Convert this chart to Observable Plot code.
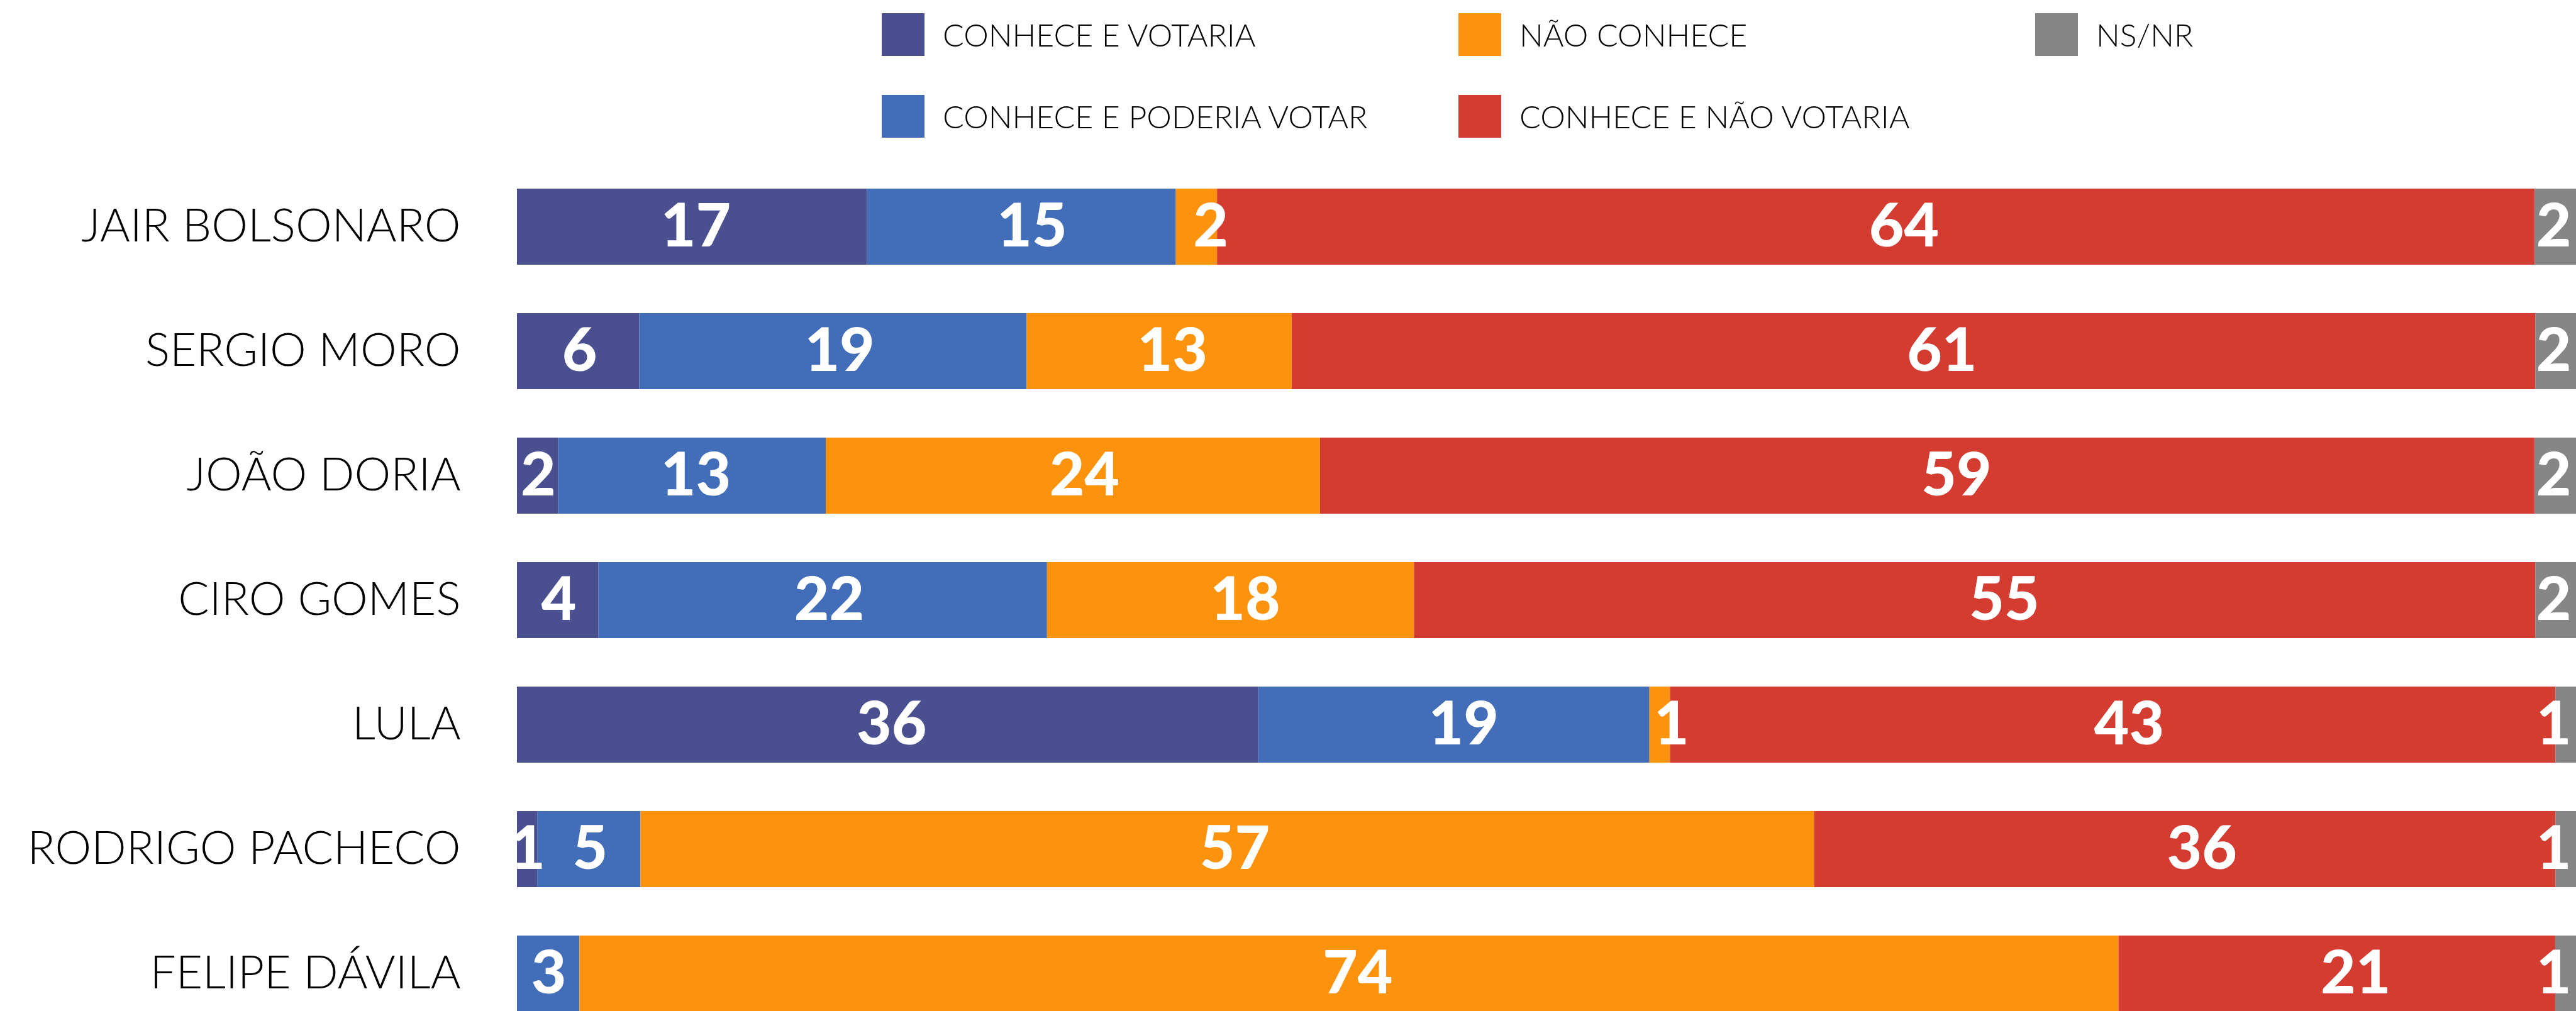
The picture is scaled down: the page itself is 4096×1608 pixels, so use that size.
<!DOCTYPE html>
<html><head><meta charset="utf-8">
<script src="https://cdn.jsdelivr.net/npm/d3@7"></script>
<script src="https://cdn.jsdelivr.net/npm/@observablehq/plot@0.6"></script>
<style>
html,body{margin:0;padding:0;background:#fff;overflow:hidden}
#legend{position:relative;width:4096px;height:256px;font-family:Lato,sans-serif;font-weight:300}
.item{position:absolute;display:flex;align-items:center;font-size:50px;color:#000;white-space:nowrap;height:68px}
.sw{width:68px;height:68px;margin-right:29px;flex:none}
</style></head><body>
<div id="legend"></div><div id="chart"></div>
<script>
const candidates = ["JAIR BOLSONARO","SERGIO MORO","JOÃO DORIA","CIRO GOMES","LULA","RODRIGO PACHECO","FELIPE DÁVILA"];
const categories = ["CONHECE E VOTARIA","CONHECE E PODERIA VOTAR","NÃO CONHECE","CONHECE E NÃO VOTARIA","NS/NR"];
const colors = ["#4a4f8f","#426db8","#fd930d","#d43c31","#868686"];
const conheceVotaria    = [17, 6, 2, 4, 36, 1, 0];
const conhecePoderia    = [15, 19, 13, 22, 19, 5, 3];
const naoConhece        = [2, 13, 24, 18, 1, 57, 74];
const conheceNaoVotaria = [64, 61, 59, 55, 43, 36, 21];
const nsnr              = [2, 2, 2, 2, 1, 1, 1];

const series = [conheceVotaria, conhecePoderia, naoConhece, conheceNaoVotaria, nsnr];
const data = [];
candidates.forEach((c, j) => categories.forEach((k, i) => data.push({candidate: c, category: k, value: series[i][j]})));
const lastCat = categories[categories.length - 1];

// legend (column-major, 2 rows)
const legend = document.getElementById("legend");
categories.forEach((k, i) => {
  const col = Math.floor(i / 2), row = i % 2;
  const el = document.createElement("div");
  el.className = "item";
  el.style.left = (1402 + col * 917) + "px";
  el.style.top = (21 + row * 130) + "px";
  const sw = document.createElement("div");
  sw.className = "sw";
  sw.style.background = colors[i];
  const tx = document.createElement("span");
  tx.textContent = k;
  el.appendChild(sw); el.appendChild(tx);
  legend.appendChild(el);
});

const chart = Plot.plot({
  width: 4096, height: 1352,
  marginLeft: 822, marginRight: 0, marginTop: 0, marginBottom: 0,
  style: {fontFamily: "Lato, sans-serif", background: "transparent", overflow: "visible"},
  x: {domain: [0, 1], axis: null},
  y: {domain: candidates, range: [41, 1355], paddingInner: 0.39, paddingOuter: 0, label: null, axis: null},
  color: {domain: categories, range: colors},
  marks: [
    Plot.barX(data, Plot.stackX({x: "value", y: "candidate", fill: "category", offset: "normalize"})),
    Plot.text(data, Plot.stackX({x: "value", y: "candidate", z: "category", offset: "normalize",
      filter: d => d.category !== lastCat && d.value > 0,
      text: d => String(d.value), fill: "white", fontSize: 96, fontWeight: 900})),
    Plot.text(data, {filter: d => d.category === lastCat, y: "candidate", text: d => String(d.value),
      frameAnchor: "right", textAnchor: "end", dx: -8, fill: "white", fontSize: 96, fontWeight: 900}),
    Plot.axisY({tickSize: 0, tickPadding: 90, fontSize: 73, fontWeight: 300, fill: "black", label: null})
  ]
});
document.getElementById("chart").appendChild(chart);
</script>
</body></html>
